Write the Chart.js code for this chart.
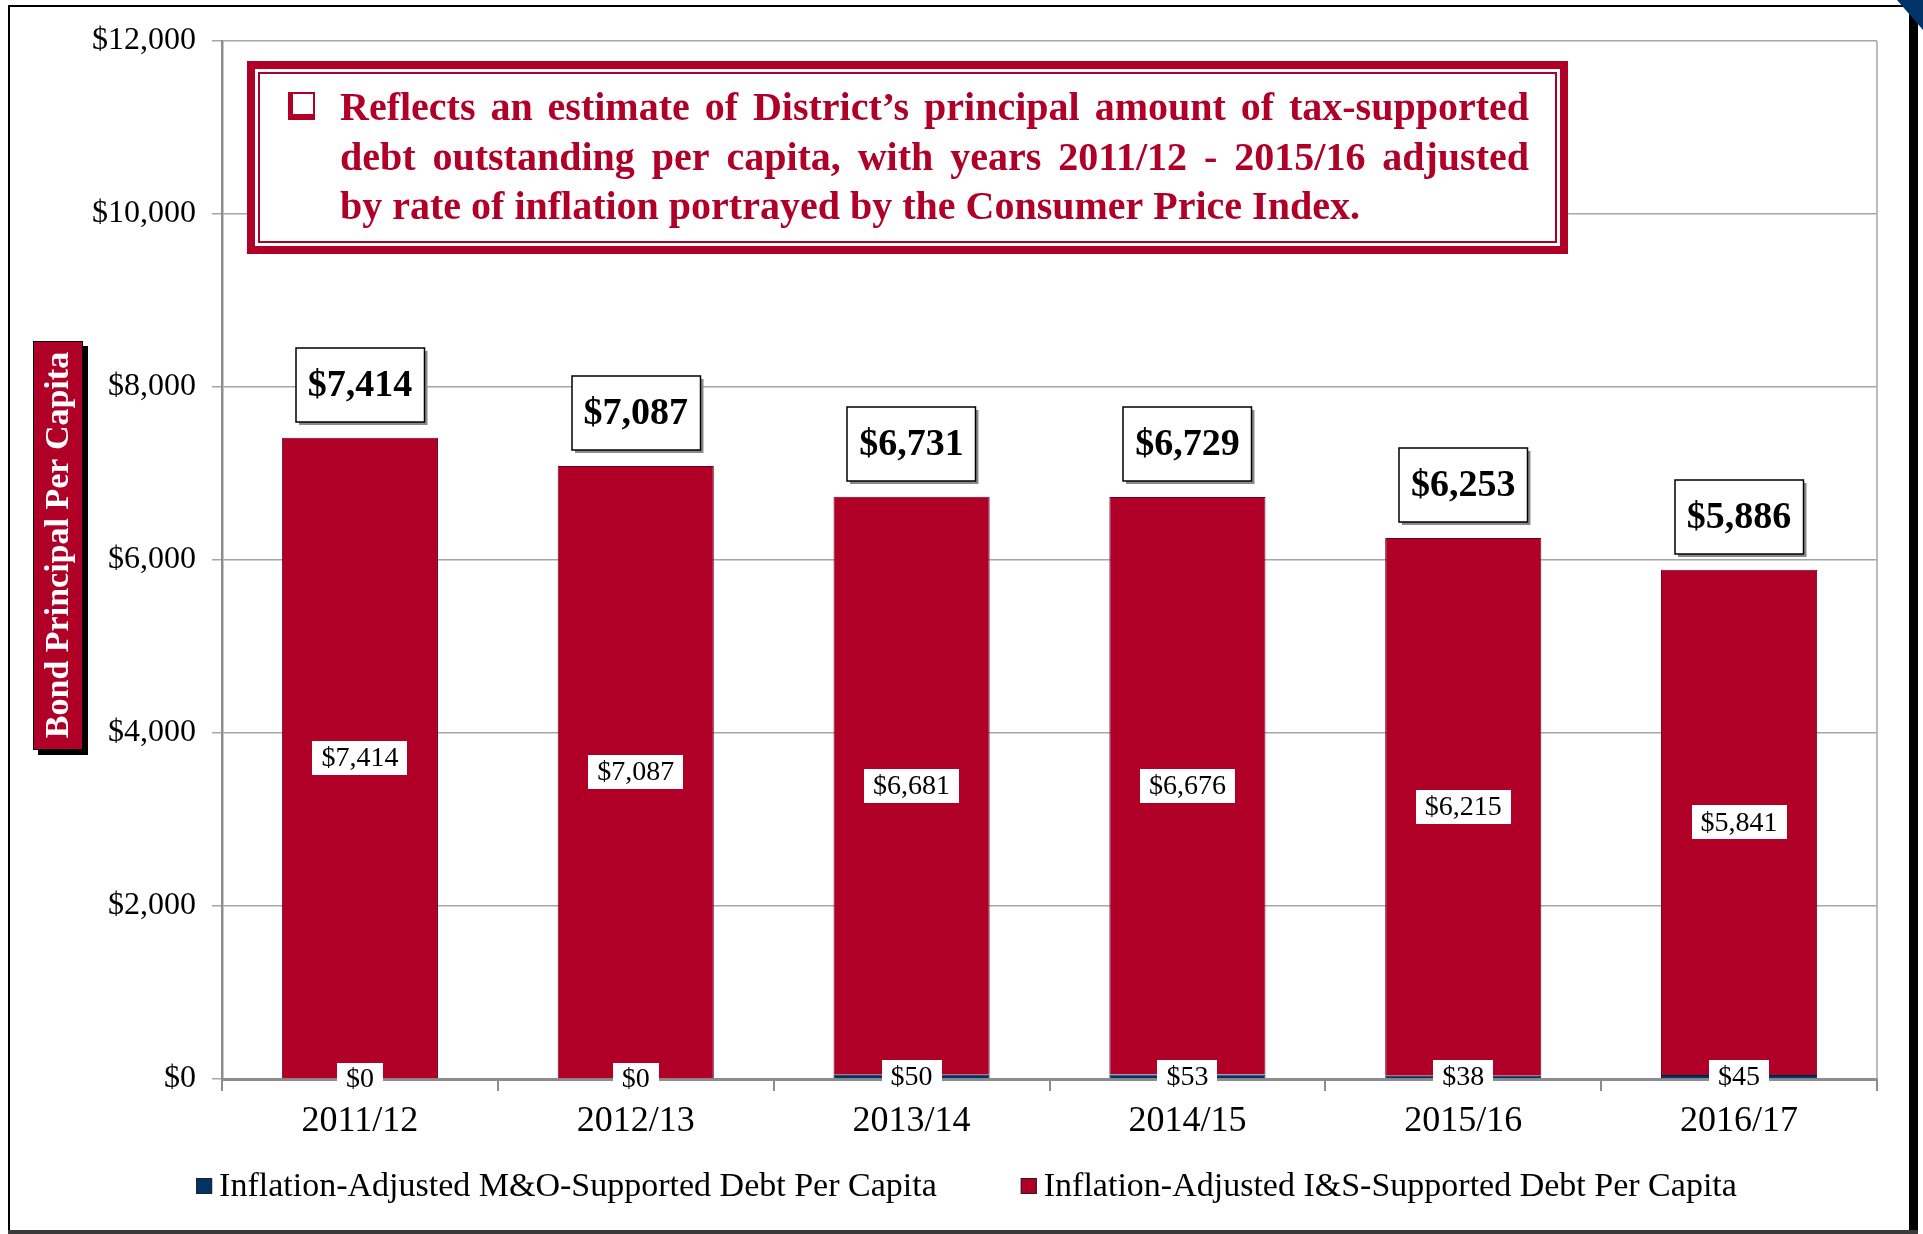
<!DOCTYPE html>
<html>
<head>
<meta charset="utf-8">
<title>Bond Principal Per Capita</title>
<script src="https://cdn.jsdelivr.net/npm/chart.js@4.4.1/dist/chart.umd.min.js"></script>
<style>
  html, body { margin: 0; padding: 0; background: #fff; }
  #wrap { width: 1923px; height: 1234px; }
</style>
</head>
<body>
<div id="wrap"><canvas id="debtChart" width="1923" height="1234"></canvas></div>
<script>
// values
const years = ['2011/12', '2012/13', '2013/14', '2014/15', '2015/16', '2016/17'];
const moDebt = [0, 0, 50, 53, 38, 45];
const isDebt = [7414, 7087, 6681, 6676, 6215, 5841];
const totalDebt = [7414, 7087, 6731, 6729, 6253, 5886];
const yTicks = [0, 2000, 4000, 6000, 8000, 10000, 12000];
const seriesNames = [
  'Inflation-Adjusted M&O-Supported Debt Per Capita',
  'Inflation-Adjusted I&S-Supported Debt Per Capita'
];
const axisTitle = 'Bond Principal Per Capita';
const noteLines = [
  'Reflects an estimate of District\u2019s principal amount of tax-supported',
  'debt outstanding per capita, with years 2011/12 - 2015/16 adjusted',
  'by rate of inflation portrayed by the Consumer Price Index.'
];

const RED = '#b00028';
const NAVY = '#003366';
const SERIF = '"Liberation Serif", "Times New Roman", serif';

function money(v) {
  return '$' + Number(v).toLocaleString('en-US');
}

// white label box, optionally framed with a drop shadow
function boxLabel(ctx, text, cx, cy, font, padX, h, framed) {
  ctx.font = font;
  const w = ctx.measureText(text).width + padX * 2;
  const x = Math.round(cx - w / 2);
  const y = Math.round(cy - h / 2);
  if (framed) {
    ctx.fillStyle = '#8a8a8a';
    ctx.fillRect(x + 3, y + 3, w, h);
  }
  ctx.fillStyle = '#fff';
  ctx.fillRect(x, y, w, h);
  if (framed) {
    ctx.strokeStyle = '#000';
    ctx.lineWidth = 1.5;
    ctx.strokeRect(x, y, w, h);
  }
  ctx.fillStyle = '#000';
  ctx.textAlign = 'center';
  ctx.textBaseline = 'middle';
  ctx.fillText(text, cx, cy + 1);
}

const framePlugin = {
  id: 'frame',
  beforeDraw(chart) {
    const ctx = chart.ctx;
    ctx.save();
    ctx.fillStyle = '#fff';
    ctx.fillRect(0, 0, chart.width, chart.height);
    ctx.restore();
  },
  beforeDatasetsDraw(chart) {
    // right border of the plot area
    const {ctx, chartArea: a} = chart;
    ctx.save();
    ctx.strokeStyle = '#a6a6a6';
    ctx.lineWidth = 1.5;
    ctx.beginPath();
    ctx.moveTo(a.right, a.top);
    ctx.lineTo(a.right, a.bottom);
    ctx.stroke();
    ctx.restore();
  },
  afterDraw(chart) {
    const ctx = chart.ctx;
    ctx.save();
    // outer frame
    ctx.strokeStyle = '#000';
    ctx.lineWidth = 2;
    ctx.beginPath();
    ctx.moveTo(9, 1232);
    ctx.lineTo(9, 6);
    ctx.lineTo(1910, 6);
    ctx.stroke();
    ctx.fillStyle = '#000';
    ctx.fillRect(1909, 6, 9, 1228);
    ctx.fillStyle = '#3a3a3a';
    ctx.fillRect(8, 1230, 1910, 4);
    // corner curl
    ctx.fillStyle = NAVY;
    ctx.beginPath();
    ctx.moveTo(1897, 0);
    ctx.lineTo(1923, 0);
    ctx.lineTo(1923, 30);
    ctx.closePath();
    ctx.fill();

    // y axis title box
    ctx.fillStyle = '#000';
    ctx.fillRect(38, 346, 50, 409);
    ctx.fillStyle = RED;
    ctx.fillRect(33, 341, 50, 409);
    ctx.strokeStyle = '#000';
    ctx.lineWidth = 1;
    ctx.strokeRect(33.5, 341.5, 49, 408);
    ctx.translate(59, 545);
    ctx.rotate(-Math.PI / 2);
    ctx.fillStyle = '#fff';
    ctx.font = 'bold 34px ' + SERIF;
    ctx.textAlign = 'center';
    ctx.textBaseline = 'middle';
    ctx.fillText(axisTitle, 0, 0);
    ctx.restore();

    // note box
    ctx.save();
    ctx.fillStyle = RED;
    ctx.fillRect(247, 61, 1321, 193);
    ctx.fillStyle = '#fff';
    ctx.fillRect(255, 69, 1305, 177);
    ctx.strokeStyle = RED;
    ctx.lineWidth = 2;
    ctx.strokeRect(259, 73, 1297, 169);
    // checkbox bullet
    ctx.fillStyle = RED;
    ctx.fillRect(288, 92, 27, 28);
    ctx.fillStyle = '#fff';
    ctx.fillRect(293, 94, 20, 20);
    // justified text, narrowed a little to match the condensed face
    const left = 340, right = 1529, width = right - left;
    ctx.font = 'bold 40px ' + SERIF;
    const natural = Math.max(ctx.measureText(noteLines[0]).width, ctx.measureText(noteLines[1]).width);
    const sx = Math.min(1, (width - 24) / natural);
    ctx.fillStyle = RED;
    ctx.textAlign = 'left';
    ctx.textBaseline = 'alphabetic';
    const baselines = [120, 170, 219];
    noteLines.forEach((line, i) => {
      const y = baselines[i];
      const words = line.split(' ');
      const last = i === noteLines.length - 1;
      const space = ctx.measureText(' ').width * sx;
      const wordsW = words.reduce((s, w) => s + ctx.measureText(w).width * sx, 0);
      const gap = last ? space : (width - wordsW) / (words.length - 1);
      let x = left;
      words.forEach(w => {
        ctx.save();
        ctx.translate(x, y);
        ctx.scale(sx, 1);
        ctx.fillText(w, 0, 0);
        ctx.restore();
        x += ctx.measureText(w).width * sx + gap;
      });
    });
    ctx.restore();

    // legend
    ctx.save();
    ctx.font = '34px ' + SERIF;
    const sq = 16, gapBox = 7, gapItem = 84;
    const widths = seriesNames.map(t => ctx.measureText(t).width);
    const total = widths.reduce((s, w) => s + w + sq + gapBox, 0) + gapItem;
    let lx = chart.width / 2 + 5 - total / 2;
    const ly = 1186;
    chart.data.datasets.forEach((ds, i) => {
      ctx.fillStyle = ds.backgroundColor;
      ctx.fillRect(lx, ly - sq / 2, sq, sq);
      ctx.strokeStyle = '#222';
      ctx.lineWidth = 1;
      ctx.strokeRect(lx + 0.5, ly - sq / 2 + 0.5, sq - 1, sq - 1);
      lx += sq + gapBox;
      ctx.fillStyle = '#000';
      ctx.textAlign = 'left';
      ctx.textBaseline = 'middle';
      ctx.fillText(ds.label, lx, ly + 1);
      lx += widths[i] + gapItem;
    });
    ctx.restore();
  },
  afterDatasetsDraw(chart) {
    const ctx = chart.ctx;
    ctx.save();
    const moMeta = chart.getDatasetMeta(0);
    const isMeta = chart.getDatasetMeta(1);
    isMeta.data.forEach((bar, i) => {
      boxLabel(ctx, money(isDebt[i]), bar.x, (bar.y + bar.base) / 2, '28px ' + SERIF, 9, 34, false);
    });
    moMeta.data.forEach((bar, i) => {
      boxLabel(ctx, money(moDebt[i]), bar.x, (bar.y + bar.base) / 2, '28px ' + SERIF, 9, 33, false);
    });
    isMeta.data.forEach((bar, i) => {
      const top = chart.scales.y.getPixelForValue(totalDebt[i]);
      boxLabel(ctx, money(totalDebt[i]), bar.x, top - 16 - 37, 'bold 38px ' + SERIF, 12, 74, true);
    });
    ctx.restore();
  }
};

new Chart(document.getElementById('debtChart'), {
  type: 'bar',
  data: {
    labels: years,
    datasets: [
      {
        label: seriesNames[0],
        data: moDebt,
        backgroundColor: NAVY,
        borderColor: '#001f40',
        borderWidth: 1
      },
      {
        label: seriesNames[1],
        data: isDebt,
        backgroundColor: RED,
        borderColor: '#6e0019',
        borderWidth: 1
      }
    ]
  },
  options: {
    responsive: false,
    devicePixelRatio: 1,
    animation: false,
    layout: { padding: { left: 0, top: 41, right: 46, bottom: 80 } },
    plugins: { legend: { display: false }, tooltip: { enabled: false } },
    datasets: { bar: { categoryPercentage: 1, barPercentage: 0.566 } },
    scales: {
      x: {
        stacked: true,
        afterFit: s => { s.height = 75; },
        grid: { drawOnChartArea: false, offset: true, tickLength: 12, color: '#8c8c8c', lineWidth: 2 },
        border: { color: '#8c8c8c', width: 3 },
        ticks: { color: '#000', padding: 9, font: { family: SERIF, size: 36 } }
      },
      y: {
        stacked: true,
        min: 0,
        max: 12000,
        afterFit: s => { s.width = 222; },
        afterBuildTicks: s => { s.ticks = yTicks.map(v => ({ value: v })); },
        grid: { color: '#a6a6a6', lineWidth: 1.5, tickLength: 10 },
        border: { color: '#8c8c8c', width: 2.5 },
        ticks: { color: '#000', padding: 16, font: { family: SERIF, size: 32 }, callback: v => money(v) }
      }
    }
  },
  plugins: [framePlugin]
});
</script>
</body>
</html>
